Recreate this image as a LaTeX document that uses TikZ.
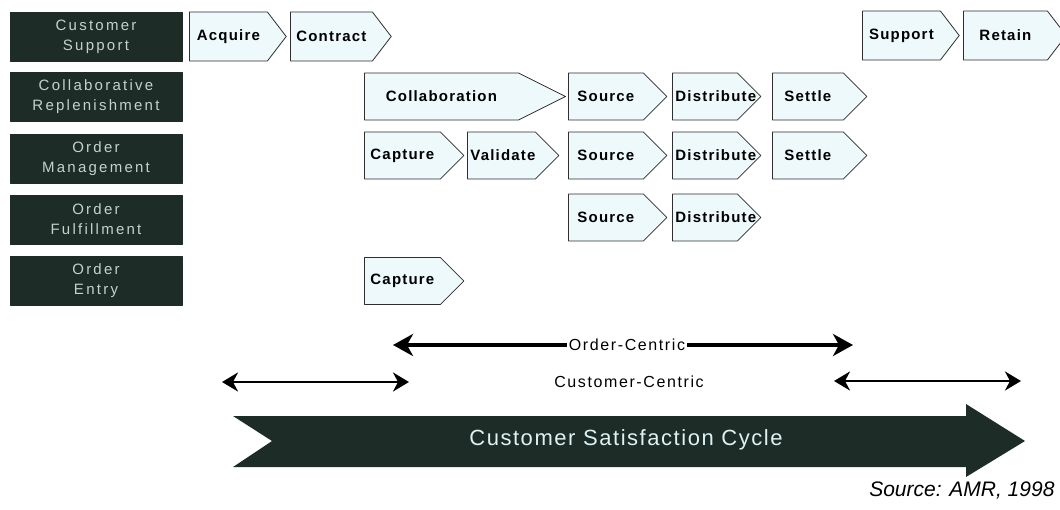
\documentclass[tikz,border=0pt]{standalone}
\usepackage{fontspec}
\setmainfont{Liberation Sans}
\newfontfamily\spacedfont[LetterSpace=8]{Liberation Sans}
\newfontfamily\labelfont[LetterSpace=10]{Liberation Sans}
\newfontfamily\widefont[LetterSpace=15]{Liberation Sans}
\newfontfamily\cyclefont[LetterSpace=7]{Liberation Sans}
\usetikzlibrary{shapes.symbols,arrows.meta}
\definecolor{boxgreen}{HTML}{1D2C27}
\definecolor{boxtext}{HTML}{C3D3CC}
\definecolor{chevfill}{HTML}{EEF9FB}
\definecolor{chevline}{HTML}{2E2E2E}
\definecolor{cycletext}{HTML}{DDF3F3}
\begin{document}
\begin{tikzpicture}[x=1pt,y=-1pt,line join=round,
  area/.style={draw=boxgreen,fill=boxgreen,text=boxtext,minimum width=172,minimum height=49,align=center,font=\widefont\fontsize{15}{20}\selectfont},
  chev/.style={signal,signal to=east,signal pointer angle=90,draw=chevline,fill=chevfill,thick,minimum height=47,inner xsep=3,inner ysep=0,text width=#1,align=center,anchor=west,font=\spacedfont\bfseries\fontsize{15}{17}\selectfont},
  heavy/.style={-{Stealth[length=20pt,width=22pt,inset=6pt]},line width=3.5pt},
  light/.style={{Stealth[length=16pt,width=19pt,inset=5pt]}-{Stealth[length=16pt,width=19pt,inset=5pt]},line width=2.2pt},
  label/.style={font=\labelfont\fontsize{16}{19}\selectfont,inner sep=2pt}]
\useasboundingbox (0,0) rectangle (1060,510);
% areas on the left
\node[area] (csbox) at (96,36.5) {Customer\\Support};
\node[area] (crbox) at (96,97) {Collaborative\\Replenishment};
\node[area] (ombox) at (96,159) {Order\\Management};
\node[area] (ofbox) at (96,219.5) {Order\\Fulfillment};
\node[area] (oebox) at (96,280.5) {Order\\Entry};
% process steps
\node[chev=72pt,minimum height=49,signal pointer angle=105] (acquire) at (189,36.5) {Acquire};
\node[chev=76pt,minimum height=49,signal pointer angle=105] (contract) at (290,36.5) {Contract};
\node[chev=72pt,minimum height=49,signal pointer angle=105] (support) at (862,35.5) {Support};
\node[chev=78pt,minimum height=49,signal pointer angle=105] (retain) at (963,35.5) {Retain};
\node[chev=148pt,signal pointer angle=53] (collab) at (364,96.5) {Collaboration};
\node[chev=69pt] (sourcea) at (568,96.5) {Source};
\node[chev=59pt] (distriba) at (672,96.5) {Distribute};
\node[chev=65pt] (settlea) at (772,96.5) {Settle};
\node[chev=70pt] (capturea) at (364,155.5) {Capture};
\node[chev=62pt] (validate) at (467,155.5) {Validate};
\node[chev=69pt] (sourceb) at (568,155.5) {Source};
\node[chev=59pt] (distribb) at (672,155.5) {Distribute};
\node[chev=65pt] (settleb) at (772,155.5) {Settle};
\node[chev=69pt] (sourcec) at (568,217.5) {Source};
\node[chev=59pt] (distribc) at (672,217.5) {Distribute};
\node[chev=70pt] (captureb) at (364,281) {Capture};
% spans
\node[label] (ordc) at (627,345) {Order-Centric};
\coordinate (ordl) at (393,345);
\coordinate (ordr) at (853,345);
\draw[heavy] (ordc) -- (ordl);
\draw[heavy] (ordc) -- (ordr);
\node[label] (custc) at (629,382) {Customer-Centric};
\coordinate (custla) at (222,382);
\coordinate (custlb) at (409,382);
\coordinate (custra) at (834,381);
\coordinate (custrb) at (1021,381);
\draw[light] (custla) -- (custlb);
\draw[light] (custra) -- (custrb);
% cycle arrow
\fill[boxgreen] (233,416) -- (966,416) -- (966,404) -- (1025,441) -- (966,477) -- (966,467) -- (233,467) -- (272,441) -- cycle;
\node[text=cycletext,font=\cyclefont\fontsize{22}{26}\selectfont] (cycle) at (626,440) {Customer Satisfaction Cycle};
\node[anchor=east,font=\itshape\fontsize{21}{25}\selectfont] (source) at (1058,491) {Source: AMR, 1998};
\end{tikzpicture}
\end{document}
